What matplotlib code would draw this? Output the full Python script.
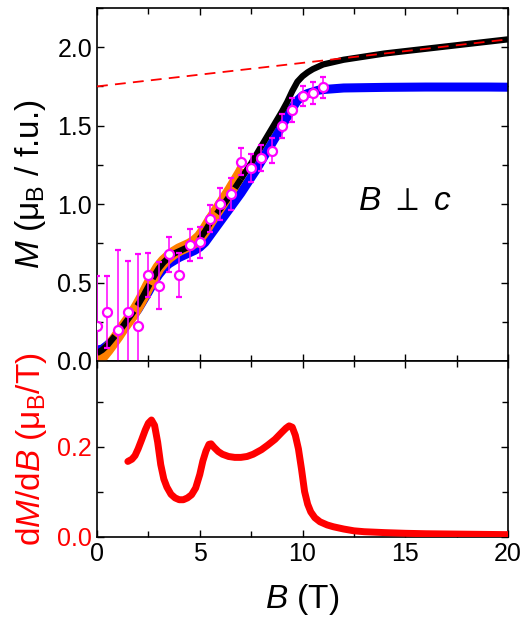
import numpy as np
import matplotlib
matplotlib.use("Agg")
import matplotlib.pyplot as plt
from matplotlib.ticker import MultipleLocator

plt.rcParams['font.family'] = ['Liberation Sans', 'DejaVu Sans']
plt.rcParams['mathtext.fontset'] = 'custom'
plt.rcParams['mathtext.rm'] = 'Liberation Sans'
plt.rcParams['mathtext.it'] = 'Liberation Sans:italic'
plt.rcParams['mathtext.bf'] = 'Liberation Sans:bold'
plt.rcParams['mathtext.fallback'] = 'stixsans'

# Magnetization, black curve
B_black = [0.0, 0.25, 0.5, 0.75, 1.0, 1.25, 1.5, 1.75, 2.0, 2.25, 2.5, 2.75, 3.0,
           3.25, 3.5, 3.75, 4.0, 4.25, 4.5, 4.75, 5.0, 5.25, 5.5, 5.75, 6.0, 6.25,
           6.5, 6.75, 7.0, 7.25, 7.5, 7.75, 8.0, 8.25, 8.5, 8.75, 9.0, 9.25, 9.5,
           9.75, 10.0, 10.25, 10.5, 10.75, 11.0, 11.5, 12.0, 13.0, 14.0, 15.0,
           16.0, 17.0, 18.0, 19.0, 20.0]
M_black = [0.05, 0.07, 0.10, 0.14, 0.18, 0.22, 0.265, 0.31, 0.36, 0.415, 0.475,
           0.535, 0.59, 0.63, 0.66, 0.685, 0.70, 0.715, 0.73, 0.75, 0.78, 0.825,
           0.88, 0.925, 0.97, 1.015, 1.06, 1.11, 1.16, 1.21, 1.26, 1.315, 1.37,
           1.425, 1.48, 1.535, 1.59, 1.65, 1.72, 1.78, 1.815, 1.84, 1.86, 1.875,
           1.89, 1.905, 1.92, 1.94, 1.96, 1.975, 1.99, 2.005, 2.02, 2.035, 2.05]
n_dashed = 29  # black curve drawn dashed up to 7 T

# Magnetization, orange curve
B_orange = [0.0, 0.25, 0.5, 0.75, 1.0, 1.25, 1.5, 1.75, 2.0, 2.25, 2.5, 2.75,
            3.0, 3.25, 3.5, 3.75, 4.0, 4.25, 4.5, 4.75, 5.0, 5.25, 5.5, 5.75,
            6.0, 6.25, 6.5, 6.75, 7.0, 7.1]
M_orange = [0.0, 0.03, 0.07, 0.115, 0.16, 0.21, 0.255, 0.30, 0.355, 0.415, 0.48,
            0.54, 0.595, 0.635, 0.665, 0.69, 0.71, 0.725, 0.74, 0.76, 0.79, 0.835,
            0.89, 0.94, 0.99, 1.04, 1.09, 1.145, 1.20, 1.225]

# Magnetization, blue curve
B_blue = [0.0, 0.25, 0.5, 0.75, 1.0, 1.25, 1.5, 1.75, 2.0, 2.25, 2.5, 2.75, 3.0,
          3.25, 3.5, 3.75, 4.0, 4.25, 4.5, 4.75, 5.0, 5.25, 5.5, 5.75, 6.0, 6.25,
          6.5, 6.75, 7.0, 7.25, 7.5, 7.75, 8.0, 8.25, 8.5, 8.75, 9.0, 9.25, 9.5,
          9.75, 10.0, 10.25, 10.5, 10.75, 11.0, 11.5, 12.0, 13.0, 14.0, 15.0,
          16.0, 17.0, 18.0, 19.0, 20.0]
M_blue = [0.07, 0.075, 0.10, 0.13, 0.17, 0.205, 0.245, 0.285, 0.33, 0.385, 0.44,
          0.50, 0.55, 0.59, 0.62, 0.64, 0.66, 0.675, 0.69, 0.705, 0.725, 0.755,
          0.80, 0.845, 0.89, 0.935, 0.98, 1.025, 1.07, 1.12, 1.17, 1.22, 1.275,
          1.33, 1.385, 1.44, 1.50, 1.555, 1.61, 1.66, 1.69, 1.705, 1.715, 1.725,
          1.73, 1.735, 1.74, 1.742, 1.744, 1.745, 1.746, 1.746, 1.746, 1.746, 1.745]

# Data points with error bars
B_pts = [0.0, 0.5, 1.0, 1.5, 2.0, 2.5, 3.0, 3.5, 4.0, 4.5, 5.0, 5.5, 6.0, 6.5,
         7.0, 7.5, 8.0, 8.5, 9.0, 9.5, 10.0, 10.5, 11.0]
M_pts = [0.225, 0.31, 0.198, 0.31, 0.22, 0.55, 0.48, 0.68, 0.55, 0.74, 0.757,
         0.906, 1.0, 1.065, 1.27, 1.23, 1.295, 1.34, 1.50, 1.60, 1.69, 1.707, 1.745]
M_err = [0.315, 0.23, 0.51, 0.33, 0.46, 0.14, 0.15, 0.11, 0.14, 0.10, 0.10,
         0.085, 0.10, 0.10, 0.085, 0.09, 0.083, 0.08, 0.077, 0.077, 0.065, 0.07, 0.067]

# Linear high-field extrapolation
B_lin = [0.0, 20.0]
M_lin = [1.75, 2.05]

# Field derivative
B_der = [1.5, 1.7, 1.85, 2.0, 2.17, 2.35, 2.5, 2.65, 2.8, 2.95, 3.1, 3.25, 3.4,
         3.6, 3.8, 4.0, 4.2, 4.4, 4.6, 4.8, 5.0, 5.15, 5.3, 5.45, 5.55, 5.7, 5.9,
         6.1, 6.4, 6.7, 7.0, 7.3, 7.6, 8.0, 8.3, 8.66, 9.0, 9.2, 9.35, 9.5, 9.65,
         9.8, 9.95, 10.1, 10.25, 10.4, 10.6, 10.85, 11.2, 11.5, 12.0, 12.5, 13.0,
         14.0, 15.0, 16.0, 17.0, 18.0, 19.0, 20.0]
dMdB = [0.167, 0.172, 0.18, 0.195, 0.215, 0.237, 0.252, 0.259, 0.247, 0.21, 0.16,
        0.128, 0.110, 0.094, 0.086, 0.082, 0.082, 0.086, 0.093, 0.108, 0.138,
        0.168, 0.19, 0.205, 0.206, 0.198, 0.189, 0.183, 0.178, 0.176, 0.176,
        0.178, 0.183, 0.193, 0.203, 0.216, 0.232, 0.241, 0.246, 0.243, 0.225,
        0.195, 0.150, 0.100, 0.072, 0.055, 0.042, 0.033, 0.026, 0.022, 0.017,
        0.013, 0.011, 0.009, 0.0075, 0.0065, 0.006, 0.0055, 0.005, 0.0045]

fig = plt.figure(figsize=(5.25, 6.18), dpi=100)
ax1 = fig.add_axes([0.1848, 0.4159, 0.7829, 0.5712])
ax2 = fig.add_axes([0.1848, 0.1316, 0.7829, 0.2843], sharex=ax1)

ax1.plot(B_blue, M_blue, color='#0000FF', lw=6.5, solid_capstyle='butt', zorder=2)
ax1.plot(B_orange, M_orange, color='#FF8000', lw=9, solid_capstyle='butt', zorder=3)
ax1.plot(B_black[:n_dashed], M_black[:n_dashed], color='black', lw=4.5,
         dashes=(4, 1), zorder=4)
ax1.plot(B_black[n_dashed - 1:], M_black[n_dashed - 1:], color='black', lw=4.5,
         solid_capstyle='butt', zorder=4)
ax1.errorbar(B_pts, M_pts, yerr=M_err, fmt='o', color='#FF00FF', ms=6.5, mfc='white',
             mew=1.6, elinewidth=1.1, capsize=2.5, capthick=1.1, zorder=5)
ax1.plot(B_lin, M_lin, color='#FF0000', lw=1.3, dashes=(6, 4), zorder=6)

ax1.text(12.7, 0.96, r'$B\ \perp\ c$', fontsize=24)

ax1.set_xlim(0, 20)
ax1.set_ylim(0, 2.25)
ax1.yaxis.set_major_locator(MultipleLocator(0.5))
ax1.yaxis.set_minor_locator(MultipleLocator(0.25))
ax1.xaxis.set_major_locator(MultipleLocator(5))
ax1.xaxis.set_minor_locator(MultipleLocator(2.5))
ax1.set_ylabel(r'$M$ (μ$_\mathrm{B}$ / f.u.)', fontsize=24, labelpad=7)
ax1.tick_params(axis='x', labelbottom=False)

ax2.plot(B_der, dMdB, color='#FF0000', lw=5, solid_capstyle='round', zorder=3)
ax2.set_ylim(0, 0.39)
ax2.yaxis.set_major_locator(MultipleLocator(0.2))
ax2.yaxis.set_minor_locator(MultipleLocator(0.1))
ax2.set_ylabel(r'd$M$/d$B$ (μ$_\mathrm{B}$/T)', fontsize=24, color='#FF0000', labelpad=6)
ax2.set_xlabel(r'$B$ (T)', fontsize=24, labelpad=12)
ax2.tick_params(axis='y', labelcolor='#FF0000')

for ax in (ax1, ax2):
    ax.tick_params(which='both', direction='in', top=True, right=True, labelsize=18)
    ax.tick_params(which='major', length=5, width=1)
    ax.tick_params(which='minor', length=4, width=1)
    for s in ax.spines.values():
        s.set_linewidth(1.2)

fig.savefig('out.png', dpi=100)
